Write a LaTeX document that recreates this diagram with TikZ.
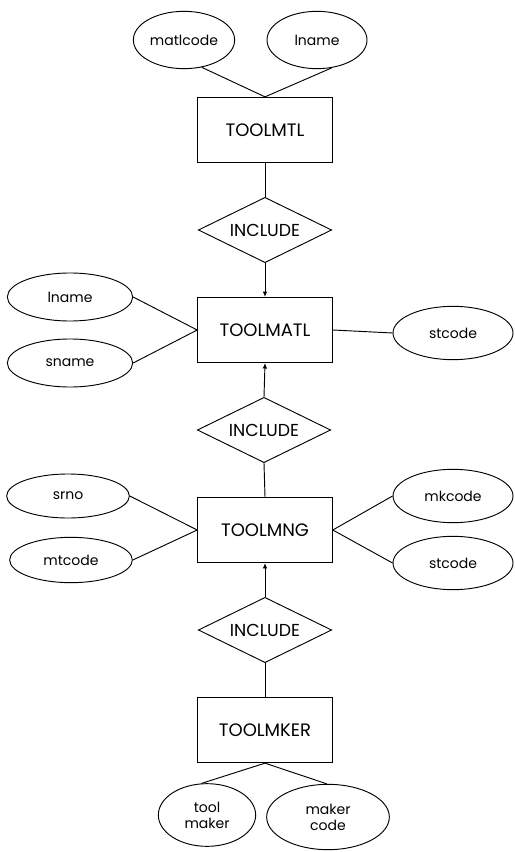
\documentclass[tikz,border=0pt]{standalone}
\usepackage{fontspec}
\setmainfont{Poppins}
\usetikzlibrary{
  arrows.meta,
  shapes.geometric
}
\tikzset{
  entitybox/.style={
    draw,
    line width=0.7pt,
    minimum width=101pt,
    minimum height=49pt,
    inner sep=2pt,
    font=\fontsize{13.5}{15}\selectfont
  },
  relation/.style={
    diamond,
    draw,
    line width=0.7pt,
    aspect=2,
    minimum width=100pt,
    minimum height=49pt,
    inner sep=0pt,
    font=\fontsize{13}{15}\selectfont
  },
  attrib/.style={
    ellipse,
    draw,
    line width=0.7pt,
    inner sep=1pt,
    align=center,
    font=\fontsize{10.5}{12}\selectfont
  },
  link/.style={draw,line width=0.7pt},
  tolink/.style={link,-{Latex[length=4pt,width=3.5pt]}},
}

\begin{document}
\begin{tikzpicture}[x=0.75pt,y=-0.75pt]
  \useasboundingbox (0,0) rectangle (514,852);

  % Tool material
  \node[attrib,minimum width=76pt,minimum height=43pt] (matlcode) at (184,40) {matlcode};
  \node[attrib,minimum width=75pt,minimum height=43pt] (lnametop) at (317,40) {lname};
  \node[entitybox] (toolmtl) at (265,130) {TOOLMTL};
  \node[relation] (includeA) at (265,230) {INCLUDE};

  % Tool material type
  \node[entitybox] (toolmatl) at (265,330) {TOOLMATL};
  \node[attrib,minimum width=94pt,minimum height=36pt] (lnameleft) at (70,297) {lname};
  \node[attrib,minimum width=94pt,minimum height=36pt] (sname) at (70,363) {sname};
  \node[attrib,minimum width=90pt,minimum height=40pt] (stcodeA) at (453,333) {stcode};
  \node[relation] (includeB) at (264,430) {INCLUDE};

  % Tool management
  \node[entitybox] (toolmng) at (265,530) {TOOLMNG};
  \node[attrib,minimum width=92pt,minimum height=33pt] (srno) at (68,496) {srno};
  \node[attrib,minimum width=92pt,minimum height=34pt] (mtcode) at (71,560) {mtcode};
  \node[attrib,minimum width=90pt,minimum height=40pt] (mkcode) at (453,496) {mkcode};
  \node[attrib,minimum width=90pt,minimum height=40pt] (stcodeB) at (453,563) {stcode};
  \node[relation] (includeC) at (265,630) {INCLUDE};

  % Tool maker
  \node[entitybox] (toolmker) at (265,730) {TOOLMKER};
  \node[attrib,minimum width=73pt,minimum height=47pt] (toolmaker) at (207,815) {tool\\maker};
  \node[attrib,minimum width=92pt,minimum height=49pt] (makercode) at (328,817) {maker\\code};

  % Connectors
  \draw[link] (matlcode.-57) -- (toolmtl.north);
  \draw[link] (lnametop.-62) -- (toolmtl.north);
  \draw[link] (toolmtl.south) -- (includeA.north);
  \draw[tolink] (includeA.south) -- (toolmatl.north);
  \draw[link] (lnameleft.east) -- (toolmatl.west);
  \draw[link] (sname.east) -- (toolmatl.west);
  \draw[link] (toolmatl.east) -- (stcodeA.west);
  \draw[tolink] (includeB.north) -- (toolmatl.south);
  \draw[link] (includeB.south) -- (toolmng.north);
  \draw[link] (srno.east) -- (toolmng.west);
  \draw[link] (mtcode.east) -- (toolmng.west);
  \draw[link] (toolmng.east) -- (mkcode.west);
  \draw[link] (toolmng.east) -- (stcodeB.west);
  \draw[tolink] (includeC.north) -- (toolmng.south);
  \draw[link] (includeC.south) -- (toolmker.north);
  \draw[link] (toolmker.south) -- (toolmaker.100);
  \draw[link] (toolmker.south) -- (makercode.92);
\end{tikzpicture}
\end{document}
